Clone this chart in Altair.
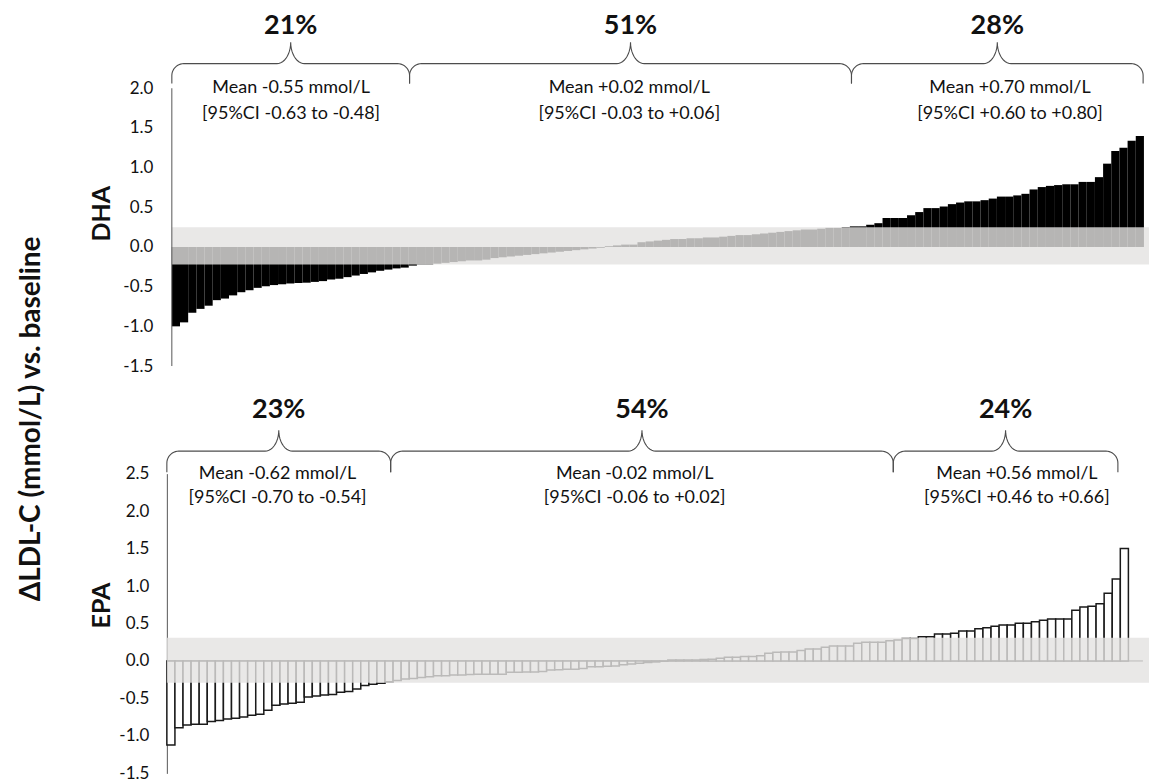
import altair as alt
import numpy as np
import pandas as pd

FONT = "Lato"
INK = "#111111"

# Individual change in LDL-C (mmol/L) after each supplement, ranked low to high
dha_change = [
    -1.00, -0.95, -0.83, -0.78, -0.74, -0.67, -0.65, -0.61, -0.57, -0.545,
    -0.515, -0.495, -0.48, -0.47, -0.46, -0.455, -0.45, -0.44, -0.43, -0.41,
    -0.40, -0.38, -0.36, -0.34, -0.32, -0.30, -0.285, -0.27, -0.26, -0.235,
    -0.22, -0.22, -0.21, -0.20, -0.19, -0.18, -0.17, -0.17, -0.16, -0.14,
    -0.13, -0.12, -0.11, -0.10, -0.09, -0.08, -0.07, -0.06, -0.05, -0.04,
    -0.03, -0.02, -0.01,
    0.01, 0.02, 0.03, 0.03, 0.06, 0.07, 0.08, 0.09, 0.10, 0.10,
    0.11, 0.11, 0.12, 0.12, 0.13, 0.14, 0.15, 0.15, 0.16, 0.17,
    0.18, 0.19, 0.20, 0.21, 0.22, 0.22, 0.23, 0.24, 0.24, 0.25,
    0.26, 0.26, 0.28, 0.30, 0.365, 0.365, 0.365, 0.40, 0.44, 0.49,
    0.49, 0.51, 0.54, 0.56, 0.575, 0.575, 0.59, 0.61, 0.635, 0.635,
    0.65, 0.67, 0.725, 0.755, 0.77, 0.78, 0.79, 0.79, 0.82, 0.82,
    0.88, 1.05, 1.21, 1.25, 1.34, 1.40,
]

epa_change = [
    -1.12, -0.89, -0.853, -0.844, -0.844, -0.809, -0.796, -0.773, -0.764, -0.747,
    -0.724, -0.711, -0.658, -0.591, -0.573, -0.564, -0.551, -0.48, -0.467, -0.453,
    -0.449, -0.418, -0.409, -0.373, -0.329, -0.311, -0.298,
    -0.276, -0.262, -0.24, -0.235, -0.222, -0.209, -0.196, -0.196, -0.187, -0.187,
    -0.182, -0.178, -0.178, -0.178, -0.178, -0.151, -0.151, -0.147, -0.147, -0.142,
    -0.12, -0.116, -0.111, -0.111, -0.102, -0.076, -0.076, -0.071, -0.067, -0.049,
    -0.04, -0.031, -0.022, -0.013, -0.004,
    0.013, 0.013, 0.013, 0.013, 0.02, 0.022, 0.036, 0.049, 0.049, 0.058,
    0.058, 0.071, 0.102, 0.116, 0.12, 0.12, 0.138, 0.16, 0.16, 0.182,
    0.20, 0.20, 0.20, 0.236, 0.249, 0.249, 0.249, 0.271, 0.28, 0.30, 0.30,
    0.324, 0.324, 0.36, 0.36, 0.369, 0.40, 0.40, 0.431, 0.444, 0.462,
    0.48, 0.48, 0.502, 0.502, 0.524, 0.542, 0.56, 0.56, 0.56, 0.676,
    0.72, 0.729, 0.764, 0.902, 1.093, 1.502,
]

# Shaded zone of no meaningful change (mmol/L)
dha_band = [-0.22, 0.25]
epa_band = [-0.29, 0.31]

# Response groups: share of subjects, bracket span (subject rank), summary text
dha_pct = ["21%", "51%", "28%"]
dha_span = [(0.0, 29.1), (29.1, 83.2), (83.2, 118.9)]
dha_text_x = [14.6, 56.0, 102.6]
dha_mean = ["Mean -0.55 mmol/L", "Mean +0.02 mmol/L", "Mean +0.70 mmol/L"]
dha_ci = ["[95%CI -0.63 to -0.48]", "[95%CI -0.03 to +0.06]", "[95%CI +0.60 to +0.80]"]

epa_pct = ["23%", "54%", "24%"]
epa_span = [(0.0, 27.7), (27.7, 89.9), (89.9, 117.7)]
epa_text_x = [13.7, 57.9, 105.2]
epa_mean = ["Mean -0.62 mmol/L", "Mean -0.02 mmol/L", "Mean +0.56 mmol/L"]
epa_ci = ["[95%CI -0.70 to -0.54]", "[95%CI -0.06 to +0.02]", "[95%CI +0.46 to +0.66]"]

dha_ticks = [2.0, 1.5, 1.0, 0.5, 0.0, -0.5, -1.0, -1.5]
epa_ticks = [2.5, 2.0, 1.5, 1.0, 0.5, 0.0, -0.5, -1.0, -1.5]

y_title = "ΔLDL-C (mmol/L) vs. baseline"


def bars_frame(values):
    return pd.DataFrame({
        "rank": np.arange(len(values)),
        "rank_end": np.arange(len(values)) + 1,
        "change": values,
        "zero": 0.0,
    })


def brace_frame(spans, y_end, y_line, y_cusp, rx, ry, rxc):
    rows = []
    for b, (x0, x1) in enumerate(spans):
        xc = (x0 + x1) / 2
        pts = [(x0, y_end)]
        t = np.linspace(np.pi, np.pi / 2, 12)
        pts += [(x0 + rx + rx * np.cos(a), y_line - ry + ry * np.sin(a)) for a in t]
        rc = y_cusp - y_line
        t = np.linspace(-np.pi / 2, 0, 12)
        pts += [(xc - rxc + rxc * np.cos(a), y_cusp + rc * np.sin(a)) for a in t]
        t = np.linspace(np.pi, 1.5 * np.pi, 12)
        pts += [(xc + rxc + rxc * np.cos(a), y_cusp + rc * np.sin(a)) for a in t]
        t = np.linspace(np.pi / 2, 0, 12)
        pts += [(x1 - rx + rx * np.cos(a), y_line - ry + ry * np.sin(a)) for a in t]
        pts.append((x1, y_end))
        for k, (px, py) in enumerate(pts):
            rows.append({"brace": b, "seq": k, "bx": float(px), "by": float(py)})
    return pd.DataFrame(rows)


def panel(values, band, ticks, x_dom, y_dom, spans, pct, text_x, mean, ci,
          ylev, name, width, height, filled, label_pad, title_x, title_y,
          draw_axis_rule, zero_end, big_title=None):
    xs = alt.Scale(domain=x_dom, nice=False, zero=False)
    ys = alt.Scale(domain=y_dom, nice=False, zero=False)
    bars = bars_frame(values)

    y_axis = alt.Axis(
        values=ticks, labelExpr="replace(format(datum.value, '.1f'), '\u2212', '-')",
        ticks=False, grid=False, domain=not draw_axis_rule, domainColor="#555555",
        domainWidth=1, labelFont=FONT, labelFontSize=17, labelColor=INK,
        labelPadding=label_pad, title=name, titleFont=FONT, titleFontSize=25,
        titleFontWeight="bold", titleColor=INK, titleX=title_x, titleY=title_y,
        titleAngle=270, titleAlign="center", titleBaseline="middle",
    )

    def X(field):
        return alt.X(field, scale=xs, axis=None)

    def Y(field):
        return alt.Y(field, scale=ys, axis=y_axis)

    layers = []
    if zero_end is not None:
        zero_df = pd.DataFrame({"x0": [0.0], "x1": [zero_end], "y": [0.0]})
        layers.append(alt.Chart(zero_df).mark_rule(color="#1a1a1a", strokeWidth=1).encode(
            x=X("x0:Q"), x2="x1:Q", y=Y("y:Q")))

    base = alt.Chart(bars_frame(values))
    if filled:
        bar_mark = base.mark_rect(color="#000000")
    else:
        bar_mark = base.mark_rect(fill="#ffffff", stroke="#1a1a1a", strokeWidth=1.5)
    layers.append(bar_mark.encode(
        x=X("rank:Q"), x2="rank_end:Q", y=Y("zero:Q"), y2="change:Q"))

    band_df = pd.DataFrame({"x0": [0.0], "x1": [x_dom[1]], "lo": [band[0]], "hi": [band[1]]})
    layers.append(alt.Chart(band_df).mark_rect(fill="#e4e2e1", opacity=0.8).encode(
        x=X("x0:Q"), x2="x1:Q", y=Y("lo:Q"), y2="hi:Q"))

    if draw_axis_rule:
        ax_df = pd.DataFrame({"x": [0.0], "y0": [y_dom[0]], "y1": [y_dom[1]]})
        layers.append(alt.Chart(ax_df).mark_rule(color="#555555", strokeWidth=1).encode(
            x=X("x:Q"), y=Y("y0:Q"), y2="y1:Q"))

    y_end, y_line, y_cusp, rx, ry, rxc, y_pct, y_mean, y_ci = ylev
    br = brace_frame(spans, y_end, y_line, y_cusp, rx, ry, rxc)
    layers.append(alt.Chart(br).mark_line(color="#4d4d4d", strokeWidth=1.1).encode(
        x=X("bx:Q"), y=Y("by:Q"), detail="brace:N", order="seq:Q"))

    centers = [(a + b) / 2 for a, b in spans]
    pct_df = pd.DataFrame({"x": centers, "y": [y_pct] * 3, "t": pct})
    layers.append(alt.Chart(pct_df).mark_text(
        font=FONT, fontSize=27, fontWeight="bold", color=INK, baseline="middle").encode(
        x=X("x:Q"), y=Y("y:Q"), text="t:N"))

    txt_df = pd.DataFrame({
        "x": list(text_x) + list(text_x),
        "y": [y_mean] * 3 + [y_ci] * 3,
        "t": list(mean) + list(ci),
    })
    layers.append(alt.Chart(txt_df).mark_text(
        font=FONT, fontSize=18, color=INK, baseline="middle").encode(
        x=X("x:Q"), y=Y("y:Q"), text="t:N"))

    if big_title is not None:
        tx, ty = big_title
        t_df = pd.DataFrame({"x": [tx], "y": [ty], "t": [y_title]})
        layers.append(alt.Chart(t_df).mark_text(
            font=FONT, fontSize=28, fontWeight="bold", color=INK, angle=270,
            baseline="middle", align="center").encode(
            x=X("x:Q"), y=Y("y:Q"), text="t:N"))

    return alt.layer(*layers).properties(width=width, height=height)


dha = panel(
    dha_change, dha_band, dha_ticks, [-0.61, 119.62], [-1.5, 2.0],
    dha_span, dha_pct, dha_text_x, dha_mean, dha_ci,
    (2.06, 2.31, 2.58, 1.47, 0.15, 1.7, 2.79, 2.0, 1.68),
    "DHA", 983, 278, True, 14, -65, 125, True, None,
)

epa = panel(
    epa_change, epa_band, epa_ticks, [0.0, 121.55], [-1.5, 2.5],
    epa_span, epa_pct, epa_text_x, epa_mean, epa_ci,
    (2.52, 2.80, 3.08, 1.48, 0.16, 1.7, 3.35, 2.49, 2.17),
    "EPA", 983, 300, False, 18, -65, 131.5, False, 120.8,
    big_title=(-16.7, 3.23),
)

chart = alt.vconcat(dha, epa, spacing=107.7, bounds="flush").properties(
    padding={"left": 17, "top": 11, "right": 0, "bottom": 0},
).configure_view(stroke=None)

chart.save("out.html", embed_options={"renderer": "svg", "actions": False})
